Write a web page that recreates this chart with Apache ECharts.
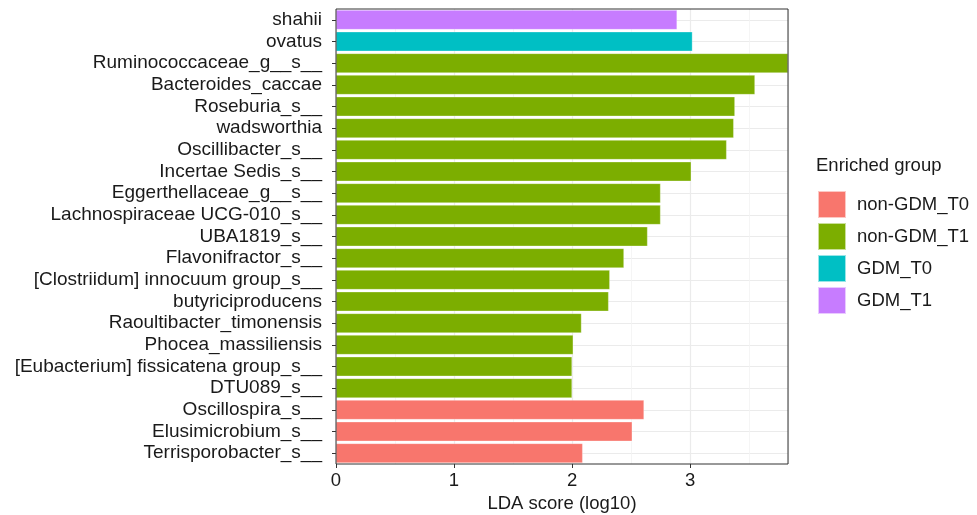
<!DOCTYPE html>
<html><head><meta charset="utf-8">
<script src="https://cdn.jsdelivr.net/npm/echarts@6/dist/echarts.min.js"></script>
<style>html,body{margin:0;padding:0;background:#fff}#c{width:977px;height:515px}</style>
</head><body><div id="c"></div>
<script>
const categories = ["shahii","ovatus","Ruminococcaceae_g__s__","Bacteroides_caccae","Roseburia_s__","wadsworthia","Oscillibacter_s__","Incertae Sedis_s__","Eggerthellaceae_g__s__","Lachnospiraceae UCG-010_s__","UBA1819_s__","Flavonifractor_s__","[Clostriidum] innocuum group_s__","butyriciproducens","Raoultibacter_timonensis","Phocea_massiliensis","[Eubacterium] fissicatena group_s__","DTU089_s__","Oscillospira_s__","Elusimicrobium_s__","Terrisporobacter_s__"];
const ldaScores = [2.89,3.02,3.83,3.55,3.38,3.37,3.31,3.01,2.75,2.75,2.64,2.44,2.32,2.31,2.08,2.01,2.00,2.00,2.61,2.51,2.09];
const groupOf = ["GDM_T1","GDM_T0","non-GDM_T1","non-GDM_T1","non-GDM_T1","non-GDM_T1","non-GDM_T1","non-GDM_T1","non-GDM_T1","non-GDM_T1","non-GDM_T1","non-GDM_T1","non-GDM_T1","non-GDM_T1","non-GDM_T1","non-GDM_T1","non-GDM_T1","non-GDM_T1","non-GDM_T0","non-GDM_T0","non-GDM_T0"];
const groups = ["non-GDM_T0","non-GDM_T1","GDM_T0","GDM_T1"];
const groupColors = ["#F8766D","#7CAE00","#00BFC4","#C77CFF"];
const xTicks = [0,1,2,3];
const xMax = 3.83;

const font = "Liberation Sans, Arial, sans-serif";
const series = groups.map((g, gi) => ({
  name: g, type: 'bar', stack: 'all', yAxisIndex: 0,
  barCategoryGap: '10%',
  itemStyle: {color: groupColors[gi], borderColor: 'rgba(255,255,255,0.6)', borderWidth: 0.5},
  data: ldaScores.map((v, i) => groupOf[i] === g ? v : '-'),
  z: 3
}));
const chart = echarts.init(document.getElementById('c'));
chart.setOption({
  animation: false,
  title: {text: 'Enriched group', left: 816, top: 156, padding: 0, textStyle: {fontFamily: font, fontSize: 18.5, fontWeight: 'normal', color: '#1a1a1a'}},
  legend: {
    orient: 'vertical', left: 817, top: 190, padding: 0, itemWidth: 28, itemHeight: 27, itemGap: 3,
    icon: 'rect', data: groups,
    textStyle: {fontFamily: font, fontSize: 18.5, color: '#1a1a1a', padding: [0,0,0,6]}
  },
  grid: {left: 336, right: 189, top: 9, bottom: 51, containLabel: false, outerBoundsMode: 'none',
    show: true, borderColor: '#333', borderWidth: 1, backgroundColor: 'transparent', z: 10},
  xAxis: {
    type: 'value', min: 0, max: xMax, interval: 1,
    name: 'LDA score (log10)', nameLocation: 'middle', nameGap: 27,
    nameTextStyle: {fontFamily: font, fontSize: 18.5, color: '#1a1a1a'},
    axisLine: {show: false},
    axisTick: {show: true, length: 4, lineStyle: {color: '#333'}},
    axisLabel: {fontFamily: font, fontSize: 18.5, color: '#1a1a1a', margin: 7, showMaxLabel: false,
      formatter: v => xTicks.includes(v) ? String(v) : ''},
    splitLine: {show: true, lineStyle: {color: '#ebebeb', width: 1.2}},
    minorTick: {show: false, splitNumber: 2},
    minorSplitLine: {show: true, lineStyle: {color: '#f3f3f3', width: 0.8}}
  },
  yAxis: [{
    type: 'category', data: categories, inverse: true,
    axisLine: {show: false},
    axisTick: {show: true, alignWithLabel: true, interval: 0, length: 4, lineStyle: {color: '#333'}},
    axisLabel: {fontFamily: font, fontSize: 19, color: '#1a1a1a', margin: 14, interval: 0},
    splitLine: {show: false}
  }, {
    type: 'value', min: 0, max: categories.length * 2, interval: 2, position: 'right',
    axisLine: {show: false}, axisTick: {show: false}, axisLabel: {show: false},
    splitLine: {show: false},
    minorTick: {show: false, splitNumber: 2},
    minorSplitLine: {show: true, lineStyle: {color: '#ebebeb', width: 1.2}}
  }],
  series: series
});
</script></body></html>
